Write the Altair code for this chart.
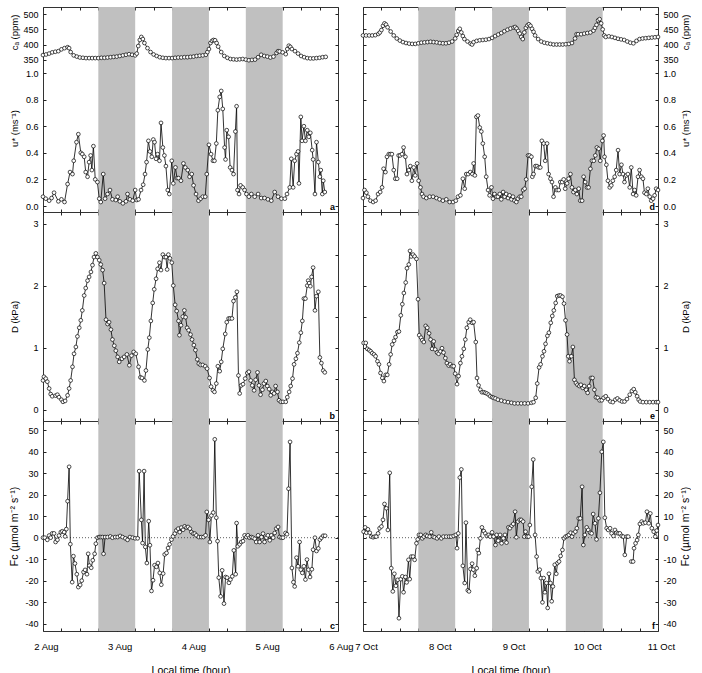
import altair as alt
import pandas as pd

AUG_DAYS = ["2 Aug", "3 Aug", "4 Aug", "5 Aug", "6 Aug"]
OCT_DAYS = ["7 Oct", "8 Oct", "9 Oct", "10 Oct", "11 Oct"]
NIGHT_START = [18, 42, 66]
NIGHT_END = [30, 54, 78]
LETTERS_AUG = ["a", "b", "c"]
LETTERS_OCT = ["d", "e", "f"]

# (hour since first midnight, value)
AUG_CA = [(0,365),(1,367),(2,370),(3,374),(4,376),(5,378),(6,384),(7,388),(8,391),(8.5,388),(9,375),(10,364),(11,360),(12,357),(13,356),(14,355),(15,355),(16,355),(17,355),(18,355),(19,356),(20,356),(21,357),(22,358),(23,359),(24,360),(25,362),(26,364),(27,366),(28,368),(29,366),(30,364),(30.5,370),(31,395),(31.5,415),(32,425),(32.5,418),(33,405),(34,388),(35,375),(36,367),(37,362),(38,358),(39,356),(40,355),(41,355),(42,355),(43,356),(44,357),(45,357),(46,358),(47,358),(48,359),(49,360),(50,362),(51,363),(52,364),(53,366),(53.5,375),(54,385),(54.5,405),(55,412),(55.5,415),(56,414),(56.5,405),(57,393),(58,375),(59,362),(60,356),(61,352),(62,351),(63,350),(64,351),(65,352),(66,350),(67,348),(68,349),(69,350),(70,358),(71,366),(72,362),(73,360),(74,357),(75,360),(76,372),(76.5,378),(77,377),(78,374),(79,368),(79.5,385),(80,396),(80.5,392),(81,385),(82,378),(83,370),(84,362),(85,358),(86,355),(87,354),(88,354),(89,355),(90,356),(91,358),(92,359)]

OCT_CA = [(0,430),(1,430),(2,430),(3,430),(4,431),(5,435),(5.5,440),(6,448),(6.5,462),(7,470),(7.5,466),(8,457),(9,443),(10,430),(11,420),(12,413),(13,408),(14,405),(15,403),(16,402),(17,402),(18,404),(19,406),(20,407),(21,408),(22,409),(23,408),(24,407),(25,405),(26,404),(27,404),(28,406),(29,410),(30,420),(30.5,432),(31,445),(31.5,452),(32,440),(32.5,428),(33,418),(34,410),(35,403),(35.5,400),(36,408),(37,412),(38,414),(39,415),(40,416),(41,418),(42,422),(43,428),(44,433),(45,438),(46,444),(47,449),(48,453),(49,456),(49.5,458),(50,453),(50.5,445),(51,436),(51.5,425),(52,418),(52.5,440),(53,455),(53.5,463),(54,467),(54.5,462),(55,452),(55.5,442),(56,430),(57,418),(58,410),(59,406),(60,404),(61,402),(62,400),(63,400),(64,400),(65,400),(66,401),(67,402),(68,405),(69,420),(69.5,434),(70,434),(71,434),(72,436),(73,438),(74,440),(75,446),(75.5,455),(76,465),(76.5,480),(77,484),(77.5,470),(78,450),(78.5,430),(79,425),(80,427),(81,425),(82,422),(83,419),(84,417),(85,415),(86,410),(87,406),(88,404),(89,412),(90,418),(91,420),(92,421),(93,422),(94,423),(95,424),(96,425)]

AUG_US = [(0,0.07),(0.9,0.055),(2,0.04),(2.8,0.06),(3.6,0.1),(5,0.035),(6,0.05),(7,0.03),(8,0.165),(8.8,0.255),(9.6,0.24),(10,0.34),(10.9,0.48),(11.5,0.54),(12.3,0.40),(12.8,0.39),(13.4,0.37),(13.9,0.255),(14.5,0.22),(15,0.33),(15.5,0.38),(15.9,0.27),(16.4,0.45),(17,0.2),(17.7,0.18),(18.3,0.055),(18.8,0.03),(19.6,0.24),(20.2,0.055),(21,0.09),(21.8,0.12),(22.6,0.05),(23.7,0.045),(24.3,0.07),(25,0.035),(26,0.02),(27,0.035),(27.5,0.09),(28.3,0.05),(29.2,0.04),(30,0.12),(30.5,0.045),(31.1,0.05),(31.9,0.12),(32.6,0.16),(33.2,0.24),(33.7,0.33),(34.3,0.49),(34.8,0.41),(35.4,0.37),(35.9,0.50),(36.3,0.48),(36.8,0.355),(37.3,0.39),(37.9,0.34),(38.4,0.625),(39,0.44),(39.5,0.38),(40,0.30),(40.6,0.12),(41.1,0.09),(41.9,0.34),(42.4,0.17),(43.1,0.29),(43.6,0.21),(44.1,0.21),(44.9,0.19),(45.7,0.32),(46.3,0.29),(47.1,0.27),(47.7,0.22),(48.4,0.24),(49,0.155),(49.8,0.09),(50.6,0.04),(51.3,0.055),(52,0.07),(52.8,0.07),(53.3,0.24),(54,0.46),(54.7,0.39),(55.3,0.34),(55.8,0.34),(56.4,0.47),(56.9,0.72),(57.5,0.82),(58,0.865),(58.5,0.73),(59.1,0.44),(59.4,0.35),(59.8,0.57),(60.4,0.52),(60.9,0.29),(61.5,0.27),(62,0.24),(62.6,0.56),(63,0.75),(63.3,0.12),(63.8,0.09),(64.3,0.155),(65,0.14),(65.6,0.12),(66.2,0.09),(67,0.07),(67.8,0.09),(68.9,0.07),(70,0.09),(71,0.06),(72.1,0.06),(73.2,0.05),(74.3,0.04),(75.4,0.105),(76.5,0.07),(77.6,0.055),(78.7,0.055),(79.4,0.09),(80.3,0.14),(80.8,0.355),(81.4,0.14),(81.9,0.34),(82.5,0.39),(83,0.41),(83.3,0.17),(83.9,0.67),(84.3,0.49),(84.9,0.60),(85.4,0.49),(86,0.57),(86.5,0.52),(87,0.55),(87.6,0.42),(87.9,0.35),(88.5,0.09),(89,0.48),(89.6,0.33),(90.1,0.22),(90.4,0.27),(90.9,0.09),(91.2,0.19),(91.7,0.105)]

OCT_US = [(0,0.06),(0.5,0.12),(1.1,0.1),(1.6,0.07),(2.4,0.04),(3.3,0.03),(4.1,0.04),(4.9,0.09),(5.6,0.105),(6.2,0.14),(6.7,0.28),(7.3,0.255),(7.8,0.37),(8.4,0.39),(8.9,0.39),(9.4,0.39),(10,0.27),(10.5,0.205),(11.1,0.205),(11.6,0.38),(12.1,0.38),(12.7,0.39),(13.2,0.44),(13.8,0.37),(14.3,0.24),(14.9,0.27),(15.4,0.3),(15.9,0.19),(16.5,0.29),(17,0.23),(17.6,0.32),(18.1,0.19),(18.7,0.14),(19.2,0.09),(19.7,0.07),(20.6,0.06),(21.7,0.07),(22.8,0.07),(23.9,0.06),(24.9,0.05),(26,0.04),(27.1,0.05),(28.2,0.03),(29.3,0.03),(30.2,0.04),(30.9,0.07),(31.7,0.08),(32.5,0.205),(33.1,0.13),(33.6,0.24),(34.2,0.24),(34.9,0.255),(35.6,0.24),(36,0.32),(36.4,0.23),(36.9,0.67),(37.4,0.68),(38,0.59),(38.5,0.56),(39,0.47),(39.6,0.37),(40.1,0.22),(40.7,0.12),(41.2,0.08),(41.8,0.14),(42.3,0.055),(42.8,0.09),(43.4,0.07),(43.9,0.07),(44.5,0.09),(45,0.05),(45.6,0.105),(46.1,0.07),(46.6,0.09),(47.2,0.06),(47.7,0.08),(48.3,0.05),(48.8,0.07),(49.3,0.04),(49.9,0.03),(50.4,0.055),(51,0.07),(51.5,0.07),(52.1,0.12),(52.6,0.13),(53.1,0.2),(53.7,0.38),(54.2,0.38),(54.8,0.37),(55.1,0.22),(55.5,0.24),(56.1,0.3),(56.6,0.3),(57.2,0.29),(57.7,0.29),(58.2,0.49),(58.8,0.47),(59.3,0.34),(59.9,0.47),(60.4,0.24),(61,0.205),(61.5,0.18),(62,0.07),(62.6,0.14),(63.1,0.12),(63.7,0.12),(64.2,0.18),(64.8,0.18),(65.3,0.2),(65.8,0.13),(66.4,0.17),(66.9,0.205),(67.5,0.24),(68,0.14),(68.5,0.105),(69.1,0.12),(69.6,0.09),(70.2,0.13),(70.7,0.04),(71.3,0.04),(71.8,0.22),(72.3,0.18),(72.9,0.14),(73.4,0.14),(74,0.28),(74.5,0.34),(75.1,0.34),(75.6,0.38),(76.1,0.44),(76.7,0.43),(77.2,0.34),(77.9,0.49),(78.3,0.53),(78.6,0.37),(79.2,0.31),(79.7,0.19),(80.3,0.14),(80.8,0.155),(81.3,0.19),(81.9,0.22),(82.4,0.27),(83,0.42),(83.5,0.24),(84.1,0.31),(84.6,0.24),(85.1,0.18),(85.7,0.23),(86.2,0.24),(86.8,0.14),(87.3,0.29),(87.9,0.09),(88.4,0.12),(88.9,0.08),(89.5,0.22),(90,0.27),(90.6,0.22),(91.1,0.205),(91.6,0.1),(92.2,0.09),(92.7,0.13),(93.3,0.07),(93.8,0.04),(94.4,0.055),(94.9,0.08),(95.4,0.13),(96,0.12)]

AUG_D = [(0,0.47),(0.3,0.53),(0.9,0.5),(1.4,0.45),(2,0.34),(2.5,0.25),(3,0.215),(4.1,0.225),(4.7,0.24),(5.2,0.2),(6,0.16),(6.5,0.125),(7.2,0.14),(8,0.23),(8.5,0.34),(9,0.47),(9.6,0.69),(10.1,0.9),(10.7,1.01),(11.2,1.18),(11.8,1.32),(12.3,1.44),(12.8,1.6),(13.4,1.84),(13.9,1.96),(14.5,2.08),(15,2.14),(15.6,2.22),(16.1,2.33),(16.6,2.46),(17.2,2.52),(17.7,2.46),(18.3,2.41),(18.8,2.34),(19.4,2.25),(19.9,2.04),(20.5,1.45),(21,1.38),(21.5,1.41),(22.1,1.29),(22.6,1.13),(23.2,1.03),(23.7,0.95),(24.3,0.85),(24.8,0.77),(25.7,0.82),(26.4,0.85),(27.3,0.89),(28.1,0.715),(28.8,0.87),(29.5,0.93),(30.2,0.9),(31.1,0.69),(31.7,0.52),(32.2,0.51),(33,0.47),(33.5,0.63),(34.1,0.97),(34.6,1.16),(35.1,1.43),(35.7,1.72),(36.2,1.94),(36.8,2.11),(37.3,2.27),(37.9,2.37),(38.4,2.25),(39,2.5),(39.5,2.46),(40,2.46),(40.4,2.26),(40.8,2.5),(41.3,2.44),(41.9,2.37),(42.4,2.0),(43,1.69),(43.5,1.59),(44.1,1.43),(44.4,1.2),(44.9,1.36),(45.5,1.5),(46,1.6),(46.4,1.49),(46.9,1.32),(47.4,1.28),(48,1.21),(48.5,1.13),(49.1,1.04),(49.6,0.96),(50.2,0.81),(50.7,0.74),(51.3,0.72),(52,0.72),(52.8,0.7),(53.4,0.66),(54.2,0.51),(54.7,0.37),(55.3,0.31),(55.8,0.285),(56.4,0.42),(56.9,0.7),(57.5,0.62),(58,0.77),(58.5,0.98),(59.3,1.22),(59.8,1.41),(60.4,1.47),(60.9,1.47),(61.5,1.47),(62,1.75),(62.6,1.81),(63.1,1.9),(63.6,0.55),(64,0.26),(64.5,0.39),(65.1,0.41),(65.8,0.5),(66.5,0.59),(67,0.61),(67.6,0.47),(68.1,0.39),(68.7,0.31),(69.2,0.48),(69.8,0.6),(70.3,0.39),(70.8,0.24),(71.4,0.32),(71.9,0.42),(72.5,0.46),(73,0.38),(73.6,0.33),(74.1,0.23),(74.6,0.285),(75.2,0.26),(75.7,0.38),(76.3,0.285),(76.8,0.15),(77.4,0.125),(78.1,0.125),(79,0.125),(79.5,0.2),(80.1,0.285),(80.6,0.38),(81.2,0.5),(81.7,0.73),(82.3,0.82),(82.8,0.91),(83.4,1.08),(83.9,1.24),(84.4,1.43),(84.9,1.79),(85.4,1.79),(86,2.0),(86.3,2.08),(86.6,2.04),(87,1.99),(87.4,2.14),(87.9,2.29),(88.5,1.6),(89,1.83),(89.6,1.9),(90.1,0.84),(90.6,0.75),(91.2,0.63),(91.7,0.6)]

OCT_D = [(0.2,1.075),(0.9,1.075),(1.4,0.98),(2,0.96),(2.5,0.94),(3,0.91),(3.6,0.89),(4.1,0.86),(4.7,0.78),(5.2,0.73),(5.7,0.59),(6.3,0.51),(6.8,0.46),(7.4,0.56),(7.9,0.56),(8.5,0.73),(9,0.89),(9.5,1.05),(10.1,1.11),(10.6,1.17),(11.2,1.25),(11.7,1.26),(12.3,1.52),(12.8,1.7),(13.3,1.88),(13.9,2.05),(14.3,2.28),(14.9,2.34),(15.3,2.56),(15.7,2.47),(16.3,2.5),(16.8,2.47),(17.4,2.43),(17.9,1.78),(18.3,1.2),(18.9,1.16),(19.3,1.12),(19.8,1.09),(20.4,1.35),(20.9,1.32),(21.5,1.23),(22,1.13),(22.5,0.98),(23,1.1),(23.5,0.97),(24.1,0.92),(24.6,0.9),(25.2,0.94),(25.7,0.99),(26.2,0.92),(26.8,0.83),(27.3,0.75),(27.9,0.71),(28.4,0.73),(29,0.7),(29.5,0.7),(30,0.58),(30.6,0.41),(31.1,0.54),(31.7,0.75),(32.2,0.86),(32.8,0.98),(33.3,1.13),(33.8,1.32),(34.4,1.41),(34.9,1.45),(35.5,1.4),(36,1.41),(36.7,1.09),(37.1,0.51),(37.6,0.39),(38.2,0.32),(38.7,0.28),(39.3,0.28),(39.8,0.27),(40.3,0.26),(40.9,0.24),(41.4,0.215),(42,0.2),(42.5,0.19),(43.1,0.18),(43.9,0.16),(45,0.145),(46.1,0.13),(47.2,0.12),(48.3,0.11),(49.3,0.1),(50.4,0.1),(51.5,0.1),(52.6,0.1),(53.7,0.1),(54.8,0.11),(55.5,0.12),(56.2,0.19),(56.7,0.42),(57.3,0.68),(57.8,0.73),(58.4,0.86),(58.9,0.94),(59.4,1.06),(60,1.19),(60.5,1.24),(61.1,1.4),(61.6,1.51),(62.1,1.6),(62.7,1.72),(63.2,1.83),(63.8,1.84),(64.3,1.84),(64.9,1.82),(65.4,1.71),(65.9,1.44),(66.4,1.21),(66.8,0.86),(67.2,0.78),(67.8,0.86),(68.3,1.01),(68.8,0.48),(69.3,0.43),(69.8,0.4),(70.4,0.38),(70.9,0.4),(71.5,0.35),(72,0.38),(72.6,0.32),(73.1,0.27),(73.6,0.38),(74.2,0.51),(74.7,0.51),(75.3,0.32),(75.8,0.2),(76.4,0.19),(77,0.15),(77.7,0.15),(78.3,0.19),(79,0.215),(79.7,0.17),(80.5,0.13),(81.3,0.12),(82.1,0.16),(82.8,0.18),(83.5,0.15),(84.3,0.13),(85.1,0.13),(85.9,0.17),(86.8,0.24),(87.5,0.3),(88.1,0.33),(88.6,0.28),(89.2,0.215),(89.7,0.16),(90.2,0.13),(91.1,0.12),(92.2,0.12),(93.3,0.12),(94.4,0.12),(95.4,0.12),(96,0.12)]

AUG_F = [(0,0),(0.6,0),(1.4,-1),(2,1),(2.5,0),(3,2),(3.6,2),(4.1,-2),(4.7,-1),(5.2,1),(5.8,2.6),(6.3,3),(6.9,2.6),(7.2,0.6),(7.6,4),(8,17),(8.5,33),(8.9,-3),(9.5,-20.7),(9.9,-8.6),(10.4,-12),(11,-17),(11.5,-23),(12.1,-22),(12.6,-20),(13.2,-16),(13.7,-15),(14.3,-17),(14.7,-7.5),(15.1,-13),(15.7,-14),(16.2,-10.5),(16.8,-7.5),(17.2,-2.8),(17.7,0),(18.3,0.3),(18.8,0.3),(19.4,0.3),(19.7,-7.5),(20.2,0.3),(21,0.3),(21.9,0.6),(22.6,0),(23.5,0.3),(24.3,0.3),(25.1,0.8),(25.9,0.3),(26.8,-0.3),(27.5,-1),(28.3,0.3),(29.2,0),(30,-0.3),(30.8,-0.3),(31.3,31),(32,8.3),(32.4,-2.5),(32.9,31),(33.3,-4.3),(33.8,-11.8),(34.4,7.7),(34.8,-3.5),(35.3,-24.8),(35.8,-19.8),(36.3,-12.8),(36.9,-13.6),(37.4,-11.8),(38,-16.4),(38.5,-21.9),(39.1,-16.7),(39.6,-7.8),(40.2,-7.1),(40.7,-4.8),(41.2,-3.1),(41.8,-0.9),(42.3,0.6),(42.9,1.9),(43.4,3.4),(44,4.2),(44.5,2.6),(45,4.7),(45.6,3.7),(46.1,5.3),(46.7,4.7),(47.2,5),(47.8,4.2),(48.3,2.6),(48.9,1.9),(49.4,1.9),(49.9,1.1),(50.7,0.3),(51.5,0.3),(52.2,0.3),(52.9,1.1),(53.3,12),(53.9,8.3),(54.3,-2),(54.8,10.3),(55.4,11.7),(55.9,45.8),(56.4,9.3),(56.8,-1.6),(57.2,-18.6),(57.8,-27.3),(58.3,-15.2),(58.9,-30.7),(59.4,-18.3),(59.9,-18.6),(60.5,-21),(61,-19.5),(61.6,-18),(62.1,-5.9),(62.7,-17),(63,6.8),(63.4,-4),(64,-3.1),(64.5,-2),(65.1,-1.6),(65.6,1.1),(66.2,0.3),(66.7,1.1),(67.2,0),(67.8,0.3),(68.3,0),(68.9,-0.5),(69.4,-2),(70,1.1),(70.5,-2),(71.1,0.3),(71.6,1.9),(72.1,-2),(72.7,0),(73.2,1.1),(73.8,-1.2),(74.3,1.1),(74.9,0),(75.4,2.2),(75.9,4.2),(76.5,5),(77,0.3),(77.6,0),(78.1,0),(78.9,2.2),(79.4,1.6),(79.9,22.8),(80.4,44.6),(81,-14.1),(81.5,-20.7),(81.9,-22.7),(82.5,-9.3),(83,-13.3),(83.5,-2),(83.9,-14.9),(84.4,-16.4),(84.9,-13.3),(85.4,-19.5),(85.9,-10.2),(86.4,-14.9),(86.9,-18.3),(87.5,-14.7),(87.9,-5.6),(88.5,0),(89,-6.2),(89.6,-5),(90.1,-0.9),(90.6,0),(91.2,0.9),(91.8,0.9)]

OCT_F = [(0.2,2.8),(0.7,4.8),(1.1,2.3),(1.6,3.9),(2.2,2.3),(2.7,0.5),(3.3,0.2),(3.8,0.5),(4.3,0.5),(4.9,2),(5.4,4.4),(6,5.2),(6.5,8.3),(7,15.7),(7.6,13.7),(8.1,3.6),(8.7,30.2),(9.2,-14.2),(9.7,-25),(10.2,-16.8),(10.7,-22.4),(11.3,-19.6),(11.7,-37.5),(12.3,-19.3),(12.8,-18),(13.2,-25.4),(13.8,-18.3),(14.2,-20.8),(14.8,-10.3),(15.2,-19.3),(15.7,-8.8),(16.3,-8.8),(16.8,-10.3),(17.4,-2.6),(17.8,-0.8),(18.2,1.3),(18.8,1.3),(19.3,-0.3),(19.8,0.5),(20.4,1.3),(20.9,0.8),(21.7,0.5),(22.2,2.5),(22.8,0.5),(23.3,0.2),(24.1,-0.3),(24.7,0.5),(25.5,-0.3),(26.2,0.5),(27.1,0.5),(28,0.5),(28.7,0.5),(29.5,0.8),(30.2,1.3),(30.6,-4.9),(31,2),(31.5,28),(32,31.8),(32.5,-13.1),(33.1,-21.1),(33.5,7),(34.1,-24.5),(34.5,-25),(35,-14.6),(35.5,-12.1),(35.9,-14.9),(36.4,-17.7),(37,-14.2),(37.3,-5.7),(37.7,-7.2),(38.2,-0.3),(38.7,4.8),(39.3,3.1),(39.8,2),(40.3,0.8),(40.9,1.3),(41.4,0.5),(42,2.5),(42.5,0.5),(43.1,-3.4),(43.5,1.3),(44,-1.4),(44.6,1.3),(45.1,-2.6),(45.7,-0.3),(46.2,1.3),(46.7,-2.3),(47.3,4.8),(47.8,4.4),(48.4,5.6),(48.9,6.4),(49.5,12.1),(49.9,0.2),(50.4,7.5),(51,8.3),(51.5,8.3),(52.1,7.5),(52.5,0.5),(52.9,2.8),(53.4,0.5),(53.9,0.5),(54.3,5.9),(54.9,23.7),(55.4,36.4),(56,1.3),(56.5,-8.8),(56.9,-15.7),(57.5,-14.9),(57.9,-18.8),(58.4,-30.1),(58.8,-18.8),(59.2,-25.4),(59.7,-21.1),(60.1,-32.7),(60.5,-16.8),(61,-21.1),(61.4,-29.6),(61.8,-22.7),(62.4,-12.6),(62.9,-16.8),(63.3,-11.8),(63.8,-11.1),(64.3,-8.5),(64.9,-5.7),(65.4,-0.3),(65.9,0.5),(66.5,0.8),(67,1.3),(67.6,2.3),(68,0.5),(68.5,2),(69.1,2.8),(69.6,4.4),(70.2,9),(70.7,9),(71.3,23.7),(71.7,-3.4),(72.2,1.3),(72.8,4.8),(73.3,3.6),(73.9,2.3),(74.4,2),(74.9,11),(75.5,6.7),(76,-0.8),(76.6,9),(77.1,20.9),(77.7,40),(78.2,44.6),(78.7,9.3),(79.3,4.4),(79.8,3.6),(80.4,4.4),(80.9,2),(81.5,0.8),(82,3.6),(82.5,2.3),(83.1,2),(83.6,2),(84.2,0.8),(84.7,0.5),(85.2,-8),(85.8,0.5),(86.3,0.5),(86.8,None),(87.3,-11.1),(87.9,-11.1),(88.2,-4.9),(88.7,-2.6),(89.2,-1.1),(89.6,1.3),(90.1,6.4),(90.7,7.5),(91.2,6.7),(91.9,7),(92.4,12.1),(93,6.7),(93.5,11.3),(94,4.4),(94.6,2.8),(95.1,0.5),(95.6,3.3),(96,5.9)]

TITLE_CA = "c\u2090 (ppm)"
TITLE_US = "u* (ms\u207b\u00b9)"
TITLE_D = "D (kPa)"
TITLE_F = "Fc (\u00b5mol m\u207b\u00b2 s\u207b\u00b9)"
TITLE_X = "Local time (hour)"

W = 295
H_A, H_B, H_C = 205, 209, 210
FONT = "Liberation Sans"

XS = alt.Scale(domain=[0, 96], nice=False, zero=False)
CA_S = alt.Scale(domain=[-154.6, 524.2], nice=False, zero=False)
US_S = alt.Scale(domain=[-0.0451, 1.4963], nice=False, zero=False)
D_S = alt.Scale(domain=[-0.184, 3.187], nice=False, zero=False)
F_S = alt.Scale(domain=[-43.44, 54.33], nice=False, zero=False)


def to_df(pairs):
    rows, seg = [], 0
    for h, v in pairs:
        if v is None:
            seg += 1
            continue
        rows.append({"h": h, "v": v, "seg": seg})
    return pd.DataFrame(rows)


def y_axis(orient, values, title=None, labels=True, fmt=None, expr=None, tx=None, ty=None, tfs=9.5):
    kw = dict(orient=orient, values=values, offset=-3, tickSize=3, labels=labels,
              labelPadding=5, labelFontSize=9, domain=False, grid=False,
              tickColor="#222", labelColor="black")
    if title:
        kw.update(title=title, titleAngle=270, titleAlign="center",
                  titleBaseline="bottom" if orient == "left" else "top",
                  titleFontSize=tfs, titleFontWeight="normal", titleColor="black")
        if tx is not None:
            kw["titleX"] = tx
        if ty is not None:
            kw["titleY"] = ty
    else:
        kw["title"] = None
    if fmt:
        kw["format"] = fmt
    if expr:
        kw["labelExpr"] = expr
    return alt.Axis(**kw)


def x_axis(orient, days=None, title=None):
    kw = dict(orient=orient, values=list(range(0, 97, 6)), offset=-3, tickSize=3,
              domain=False, grid=False, tickColor="#222")
    if days:
        arr = "[" + ",".join("'%s'" % d for d in days) + "]"
        kw.update(labels=True, labelExpr="datum.value %% 24 == 0 ? %s[datum.value / 24] : ''" % arr,
                  labelPadding=10, labelFlush=False, labelOverlap=False, labelFontSize=9.5,
                  labelColor="black", labelOffset=3)
    else:
        kw["labels"] = False
    if title:
        kw.update(title=title, titlePadding=15, titleFontSize=10.5,
                  titleFontWeight="normal", titleColor="black")
    else:
        kw["title"] = None
    return alt.Axis(**kw)


def series(pairs, yscale, y_main, y_mirror, x_line, x_pts):
    base = alt.Chart(to_df(pairs))
    line = base.mark_line(color="black", strokeWidth=0.8).encode(
        x=alt.X("h:Q", scale=XS, axis=x_line),
        y=alt.Y("v:Q", scale=yscale, axis=y_main),
        detail="seg:N",
    )
    pts = base.mark_point(shape="circle", filled=True, fill="white", stroke="black",
                          strokeWidth=0.7, size=14, opacity=1).encode(
        x=alt.X("h:Q", scale=XS, axis=x_pts),
        y=alt.Y("v:Q", scale=yscale, axis=y_mirror),
    )
    return alt.layer(line, pts).resolve_axis(x="independent", y="independent")


def shade():
    nights = pd.DataFrame({"s": NIGHT_START, "e": NIGHT_END})
    return alt.Chart(nights).mark_rect(color="#c0c0c0").encode(
        x=alt.X("s:Q", scale=XS, axis=None), x2="e:Q")


def letter(t, h):
    return alt.Chart(pd.DataFrame({"t": [t]})).mark_text(
        align="right", baseline="alphabetic", fontWeight="bold", fontSize=9, font=FONT
    ).encode(text="t:N", x=alt.value(W - 3), y=alt.value(h - 2.5))


def panels(ca, us, d, f, days, letters, side):
    other = "right" if side == "left" else "left"
    tx = -27 if side == "left" else 25
    ca_s = series(ca, CA_S,
                  y_axis(side, [350, 400, 450, 500], TITLE_CA, tx=tx, ty=25),
                  y_axis(other, [350, 400, 450, 500], labels=False),
                  x_axis("top"), None)
    us_s = series(us, US_S,
                  y_axis(side, [0, 0.2, 0.4, 0.6, 0.8, 1.0], TITLE_US, fmt=".1f", tx=tx, ty=121),
                  y_axis(other, [0, 0.2, 0.4, 0.6, 0.8, 1.0], labels=False),
                  x_axis("bottom"), None)
    pa = alt.layer(shade(), ca_s, us_s, letter(letters[0], H_A)).resolve_scale(
        y="independent").resolve_axis(x="independent", y="independent").properties(width=W, height=H_A)

    dvals = [0, 0.5, 1, 1.5, 2, 2.5, 3]
    d_s = series(d, D_S,
                 y_axis(side, dvals, TITLE_D, fmt="d",
                        expr="datum.value % 1 == 0 ? datum.label : ''", tx=tx),
                 y_axis(other, dvals, labels=False),
                 x_axis("bottom"), x_axis("top"))
    pb = alt.layer(shade(), d_s, letter(letters[1], H_B)).resolve_axis(
        x="independent", y="independent").properties(width=W, height=H_B)

    fvals = list(range(-40, 51, 10))
    zero = alt.Chart(pd.DataFrame({"z": [0]})).mark_rule(
        strokeDash=[1, 2], color="#333", strokeWidth=0.8).encode(
        y=alt.Y("z:Q", scale=F_S, axis=None))
    f_s = series(f, F_S,
                 y_axis(side, fvals, TITLE_F, expr="replace(datum.label, '\u2212', '-')",
                        tx=tx, tfs=10.5),
                 y_axis(other, fvals, labels=False),
                 x_axis("bottom", days, TITLE_X), x_axis("top"))
    pc = alt.layer(shade(), zero, f_s, letter(letters[2], H_C)).resolve_axis(
        x="independent", y="independent").properties(width=W, height=H_C)
    return pa, pb, pc


la, lb, lc = panels(AUG_CA, AUG_US, AUG_D, AUG_F, AUG_DAYS, LETTERS_AUG, "left")
ra, rb, rc = panels(OCT_CA, OCT_US, OCT_D, OCT_F, OCT_DAYS, LETTERS_OCT, "right")

chart = alt.concat(la, ra, lb, rb, lc, rc, columns=2,
                   spacing={"row": 0, "column": 25}, bounds="flush").properties(
    padding={"left": 8, "top": 6, "right": 0, "bottom": 0}
).configure(font=FONT).configure_view(stroke="#333", strokeWidth=1)

chart.save("out.html", embed_options={"renderer": "svg", "actions": False})
